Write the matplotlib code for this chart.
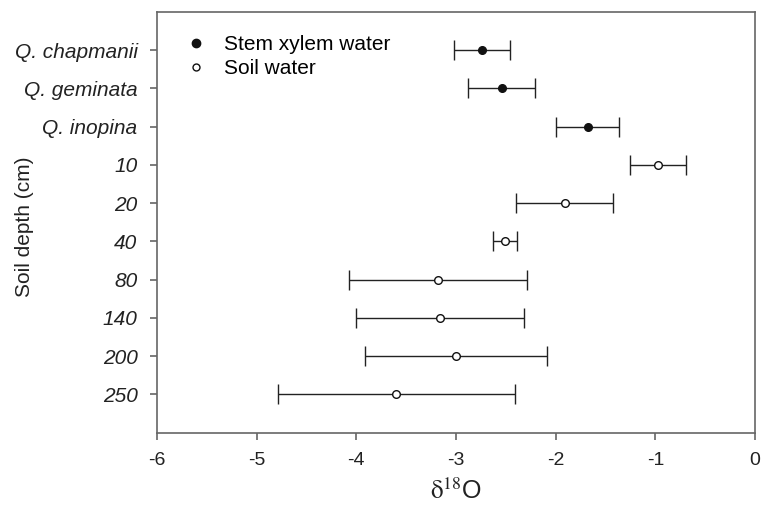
import matplotlib
matplotlib.use("Agg")
import matplotlib.pyplot as plt
from matplotlib.lines import Line2D

plt.rcParams['font.family'] = ['Liberation Sans', 'DejaVu Sans']
plt.rcParams['mathtext.fontset'] = 'stix'

# Data
stem_labels = ["Q. chapmanii", "Q. geminata", "Q. inopina"]
stem_mean = [-2.74, -2.54, -1.68]
stem_err = [0.28, 0.335, 0.32]

soil_labels = ["10", "20", "40", "80", "140", "200", "250"]
soil_mean = [-0.97, -1.91, -2.51, -3.18, -3.16, -3.00, -3.60]
soil_err = [0.28, 0.485, 0.12, 0.89, 0.84, 0.91, 1.19]

x_ticks = [-6, -5, -4, -3, -2, -1, 0]

fig = plt.figure(figsize=(7.71, 5.07), dpi=100)
ax = fig.add_axes([157/771, 1-432.5/507, (755-157)/771, (432.5-12)/507])

all_labels = stem_labels + soil_labels
ypos = list(range(1, len(all_labels) + 1))
stem_y = ypos[:len(stem_labels)]
soil_y = ypos[len(stem_labels):]

ax.errorbar(stem_mean, stem_y, xerr=stem_err, fmt='o',
            markerfacecolor='#111111', markeredgecolor='#111111', markersize=5.5,
            ecolor='#222222', elinewidth=1, capsize=7.5, capthick=1)
ax.errorbar(soil_mean, soil_y, xerr=soil_err, fmt='o',
            markerfacecolor='white', markeredgecolor='#111111', markersize=5.5,
            markeredgewidth=1, ecolor='#222222', elinewidth=1, capsize=7.5,
            capthick=1)

ax.set_xlim(-6, 0)
ax.set_ylim(11, 0)
ax.set_xticks(x_ticks)
ax.set_xticklabels([str(t) for t in x_ticks], fontsize=14)
ax.set_yticks(ypos)
ax.set_yticklabels(all_labels, fontsize=15, fontstyle='italic')

for sp in ax.spines.values():
    sp.set_color('#666666')
    sp.set_linewidth(1.2)
ax.tick_params(axis='both', direction='out', length=5, width=1.2, color='#666666',
               labelcolor='#222222')
ax.tick_params(axis='x', pad=9)
ax.tick_params(axis='y', pad=9)

ax.set_xlabel(r'$\mathrm{\delta}^{18}$O', fontsize=18, color='#222222')
ax.xaxis.set_label_coords(0.5, -0.11)
ax.set_ylabel('Soil depth (cm)', fontsize=15, color='#222222')
ax.yaxis.set_label_coords(-0.206, 0.49)

h1 = Line2D([], [], marker='o', linestyle='none', markerfacecolor='#111111',
            markeredgecolor='#111111', markersize=6)
h2 = Line2D([], [], marker='o', linestyle='none', markerfacecolor='white',
            markeredgecolor='#111111', markersize=5)
ax.legend([h1, h2], ['Stem xylem water', 'Soil water'], loc='upper left',
          frameon=False, fontsize=15, handletextpad=0.6, borderaxespad=0.65,
          borderpad=0.45, labelspacing=0.25, handlelength=1.5)

fig.savefig('out.png', dpi=100)
